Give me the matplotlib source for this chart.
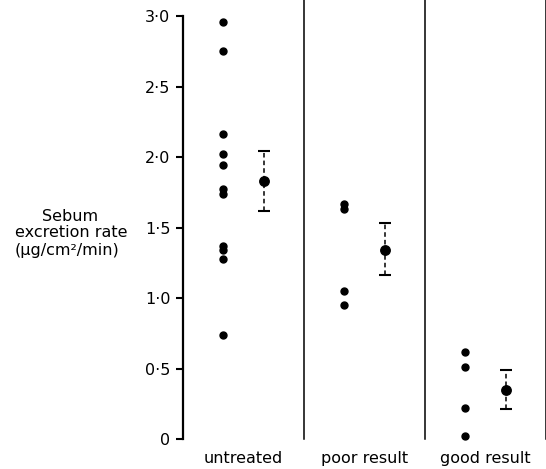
import matplotlib
matplotlib.use("Agg")
import matplotlib.pyplot as plt

categories = ["untreated", "poor result", "good result"]
untreated = [2.96, 2.75, 2.16, 2.02, 1.94, 1.77, 1.74, 1.37, 1.34, 1.28, 0.74]
poor = [1.67, 1.63, 1.05, 0.95]
good = [0.62, 0.51, 0.22, 0.02]
means = [1.83, 1.34, 0.35]
err_low = [1.62, 1.16, 0.21]
err_high = [2.04, 1.53, 0.49]
yticks = [0, 0.5, 1.0, 1.5, 2.0, 2.5, 3.0]
ytick_labels = ["0", "0·5", "1·0", "1·5", "2·0", "2·5", "3·0"]

plt.rcParams['font.family'] = ['DejaVu Sans']
fig = plt.figure(figsize=(5.46, 4.69), dpi=100)
ax = fig.add_axes([183/546, 1 - 439/469, (545.7 - 183) / 546, 423/469])

groups = [untreated, poor, good]
for i, vals in enumerate(groups):
    ax.plot([i + 0.33] * len(vals), vals, 'o', color='black', markersize=5, clip_on=False)
    m = means[i]
    ax.errorbar([i + 0.67], [m], yerr=[[m - err_low[i]], [err_high[i] - m]],
                fmt='o', color='black', markersize=6.8, capsize=4, capthick=1.5,
                elinewidth=1.1, linestyle='none', clip_on=False)
    eb = ax.containers[-1]
    for lc in eb[2]:
        lc.set_linestyle((0, (3, 2)))
    ax.text(i + 0.5, -0.135, categories[i], ha='center', va='center', fontsize=11.5)

for xd in [1, 2, 3]:
    ax.plot([xd, xd], [0, 3.12], color='black', linewidth=1.1, clip_on=False)

ax.set_xlim(0, 3)
ax.set_ylim(0, 3)
ax.set_yticks(yticks)
ax.set_yticklabels(ytick_labels, fontsize=11.5)
ax.set_xticks([])
for s in ['top', 'right', 'bottom']:
    ax.spines[s].set_visible(False)
ax.spines['left'].set_linewidth(1.6)
ax.tick_params(axis='y', direction='out', length=5, width=1.5, pad=4)

fig.text(70/546, 1 - 216/469, "Sebum", ha='center', va='center', fontsize=11.5)
fig.text(15/546, 1 - 232/469, "excretion rate", ha='left', va='center', fontsize=11.5)
fig.text(15/546, 1 - 250/469, "(μg/cm²/min)", ha='left', va='center', fontsize=11.5)

fig.savefig("out.png", dpi=100)
